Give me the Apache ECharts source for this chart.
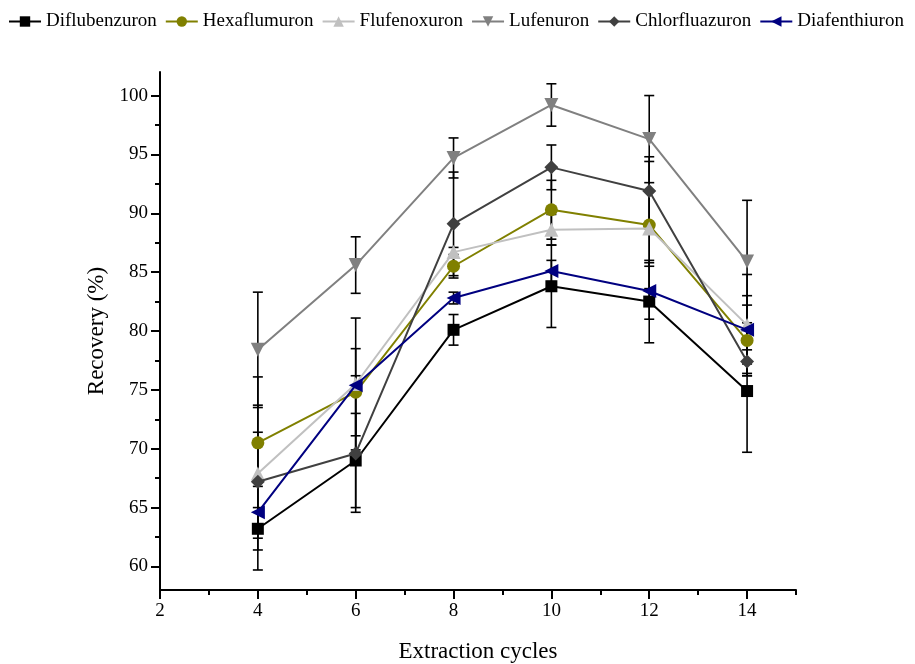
<!DOCTYPE html>
<html><head><meta charset="utf-8">
<script src="https://cdn.jsdelivr.net/npm/echarts@6/dist/echarts.min.js"></script>
<style>html,body{margin:0;padding:0;background:#fff}#c{width:915px;height:664px}</style>
</head><body><div id="c"></div>
<script>
const cycles = [4, 6, 8, 10, 12, 14];
const names = ['Diflubenzuron','Hexaflumuron','Flufenoxuron','Lufenuron','Chlorfluazuron','Diafenthiuron'];
const diflubenzuron = [63.2, 69.0, 80.1, 83.8, 82.5, 74.9];
const diflubenzuronErr = [1.8, 4.0, 1.3, 3.5, 3.5, 5.2];
const hexaflumuron = [70.5, 74.8, 85.5, 90.3, 89.0, 79.2];
const hexaflumuronErr = [3.2, 3.7, 1.0, 2.5, 5.4, 3.0];
const flufenoxuron = [67.9, 75.5, 86.7, 88.6, 88.7, 80.5];
const flufenoxuronErr = [8.2, 5.6, 0.4, 1.3, 3.2, 4.3];
const lufenuron = [78.4, 85.6, 94.7, 99.2, 96.3, 85.9];
const lufenuronErr = [4.9, 2.4, 1.7, 1.8, 3.7, 5.2];
const chlorfluazuron = [67.2, 69.6, 89.1, 93.9, 91.9, 77.4];
const chlorfluazuronErr = [4.2, 5.0, 4.4, 1.9, 2.9, 1.0];
const diafenthiuron = [64.6, 75.4, 82.8, 85.1, 83.4, 80.1];
const diafenthiuronErr = [2.2, 0.8, 0.5, 0.9, 2.4, 2.9];
const yMajor = [60, 65, 70, 75, 80, 85, 90, 95, 100];
const yMinor = [62.5, 67.5, 72.5, 77.5, 82.5, 87.5, 92.5, 97.5];
const xMajor = [2, 4, 6, 8, 10, 12, 14];
const xMinor = [3, 5, 7, 9, 11, 13, 15];

const values = [diflubenzuron, hexaflumuron, flufenoxuron, lufenuron, chlorfluazuron, diafenthiuron];
const errs = [diflubenzuronErr, hexaflumuronErr, flufenoxuronErr, lufenuronErr, chlorfluazuronErr, diafenthiuronErr];
const colors = ['#000000', '#808000', '#c0c0c0', '#808080', '#404040', '#000080'];
const symbols = ['rect', 'circle', 'triangle', 'triangle', 'diamond', 'triangle'];
const rotates = [0, 0, 0, 180, 0, 90];
const sizes = [12, 13, 14, 14, 14, 14];

const font = '"Liberation Serif", "Times New Roman", serif';
const series = [];
const errData = [];
values.forEach((v, i) => {
  v.forEach((y, j) => errData.push([cycles[j], y - errs[i][j], y + errs[i][j]]));
});
series.push({
  type: 'custom', z: 1, silent: true,
  data: errData,
  renderItem: function (params, api) {
    const x = api.value(0), lo = api.value(1), hi = api.value(2);
    const a = api.coord([x, hi]), b = api.coord([x, lo]);
    const w = 5;
    const st = { stroke: '#000', lineWidth: 1.6 };
    return { type: 'group', children: [
      { type: 'line', shape: { x1: a[0], y1: a[1], x2: b[0], y2: b[1] }, style: st },
      { type: 'line', shape: { x1: a[0] - w, y1: a[1], x2: a[0] + w, y2: a[1] }, style: st },
      { type: 'line', shape: { x1: b[0] - w, y1: b[1], x2: b[0] + w, y2: b[1] }, style: st }
    ]};
  }
});
names.forEach((n, i) => {
  series.push({
    name: n, type: 'line', z: 2 + i,
    data: cycles.map((c, j) => [c, values[i][j]]),
    symbol: symbols[i], symbolSize: sizes[i], symbolRotate: rotates[i],
    showAllSymbol: true,
    lineStyle: { color: colors[i], width: 2 },
    itemStyle: { color: colors[i] },
    emphasis: { disabled: true }
  });
});

const chart = echarts.init(document.getElementById('c'));
chart.setOption({
  animation: false,
  backgroundColor: '#fff',
  legend: {
    top: 12, left: 8, right: 0, padding: 0, itemWidth: 32, itemHeight: 13, itemGap: 8,
    data: names,
    textStyle: { fontFamily: font, fontSize: 19, color: '#000' }
  },
  grid: { left: 160, right: 119, top: 72, bottom: 74, containLabel: false, outerBoundsMode: 'none' },
  xAxis: [
    {
      type: 'value', min: 2, max: 15,
      name: 'Extraction cycles', nameLocation: 'middle', nameGap: 50,
      nameTextStyle: { fontFamily: font, fontSize: 23, color: '#000' },
      axisLine: { show: true, lineStyle: { color: '#000', width: 2 } },
      axisTick: { show: true, length: 9, customValues: xMajor, lineStyle: { color: '#000', width: 2 } },
      axisLabel: { customValues: xMajor, margin: 12, fontFamily: font, fontSize: 19, color: '#000' },
      splitLine: { show: false }
    },
    {
      type: 'value', min: 2, max: 15, position: 'bottom',
      axisLine: { show: false },
      axisTick: { show: true, length: 5, customValues: xMinor, lineStyle: { color: '#000', width: 2 } },
      axisLabel: { show: false },
      splitLine: { show: false }
    }
  ],
  yAxis: [
    {
      type: 'value', min: 58, max: 102,
      name: 'Recovery (%)', nameLocation: 'middle', nameGap: 52,
      nameTextStyle: { fontFamily: font, fontSize: 23, color: '#000' },
      axisLine: { show: true, lineStyle: { color: '#000', width: 2 } },
      axisTick: { show: true, length: 9, customValues: yMajor, lineStyle: { color: '#000', width: 2 } },
      axisLabel: { customValues: yMajor, margin: 12, fontFamily: font, fontSize: 19, color: '#000' },
      splitLine: { show: false }
    },
    {
      type: 'value', min: 58, max: 102, position: 'left',
      axisLine: { show: false },
      axisTick: { show: true, length: 5, customValues: yMinor, lineStyle: { color: '#000', width: 2 } },
      axisLabel: { show: false },
      splitLine: { show: false }
    }
  ],
  series: series
});
</script></body></html>
